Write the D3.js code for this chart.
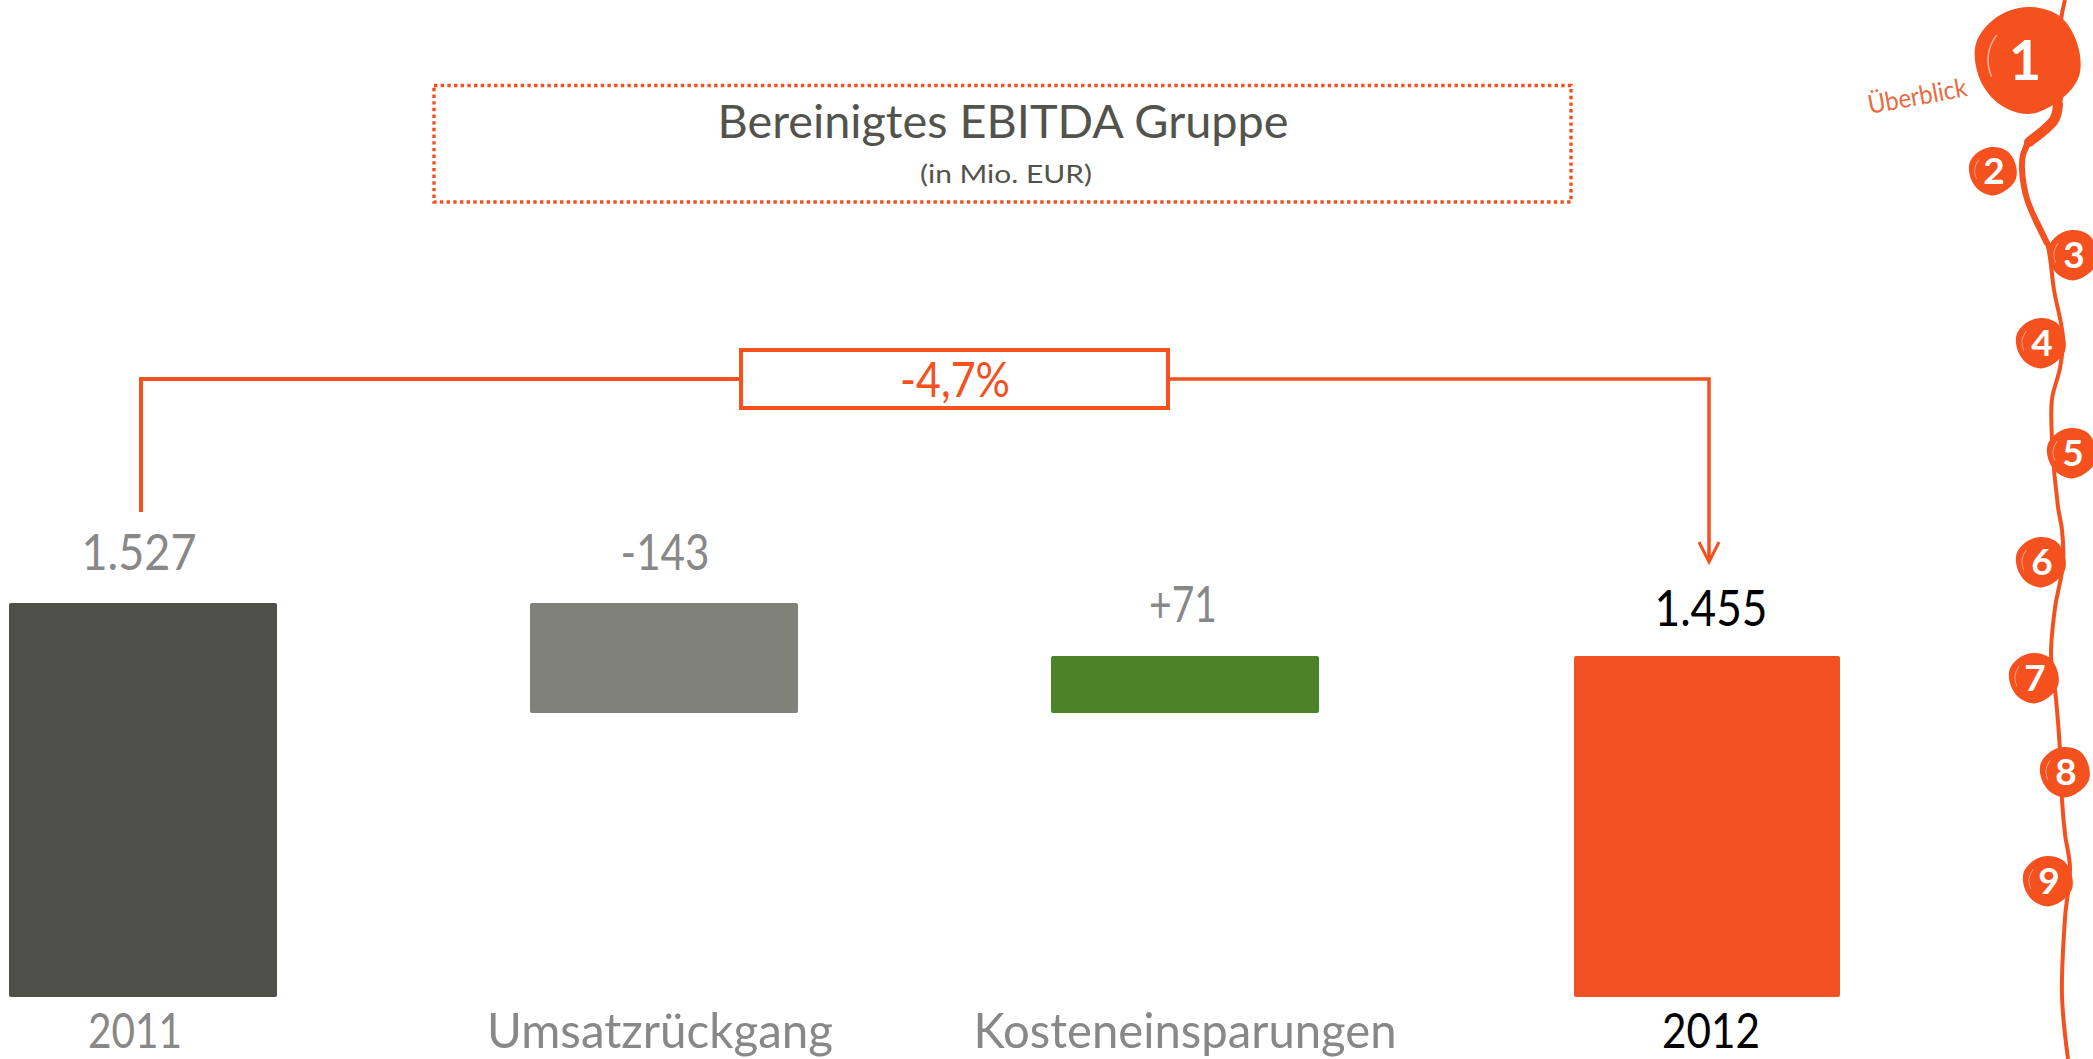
<!DOCTYPE html>
<html lang="de">
<head>
<meta charset="utf-8">
<title>Bereinigtes EBITDA Gruppe</title>
<script src="https://cdn.jsdelivr.net/npm/d3@7"></script>
<style>
html,body{margin:0;padding:0;background:#fff;}
svg{display:block;}
text{font-family:Lato,"Open Sans",sans-serif;}
</style>
</head>
<body>
<svg id="chart" width="2093" height="1059"></svg>
<script>
// ---- data ----
const categories = ["2011", "Umsatzrückgang", "Kosteneinsparungen", "2012"];
const values = [1527, -143, 71, 1455];
const valueLabels = ["1.527", "-143", "+71", "1.455"];
const barColors = ["#4e4f49", "#80827a", "#4e8229", "#f15022"];
const valueColors = ["#888888", "#888888", "#888888", "#000000"];
const axisColors = ["#888888", "#888888", "#888888", "#000000"];
const changeLabel = "-4,7%";
const titleText = "Bereinigtes EBITDA Gruppe";
const subtitleText = "(in Mio. EUR)";
const navLabels = ["1","2","3","4","5","6","7","8","9"];
const navCaption = "Überblick";

// ---- layout (separate from the data) ----
const ORANGE = "#f4511f";
const baseValue = 1015;
const valueDomain = [baseValue, 1384, 1455, 1527];
const valueRange = [997, 713, 656, 603];
const barInset = [0, 0, 0, 2];
const valueDx = [-4, 1, -2, 5];
const valueWidths = [115, 89, 68, 113];
const valueBaselines = [570, 570, 622, 626];
const axisDx = [-8, -4, 0, 5];
const axisWidths = [94, 346, 423, 98];
const axisBaseline = 1048;
const navX = [2028,1993,2073,2041,2072,2041,2034,2065,2048];
const navY = [60,171,255,343,453,562,678,772,881];
const navR = [53,24,25,25,25,25,25,25,25];
const blobShape = [1.0,1.02,0.98,1.01,0.97,1.02,0.99,0.98,1.03,1.0];
const vineX = [2065,2061,2057,2027,2022,2027,2047,2054,2063,2060,2052,2052,2058,2062,2063,2055,2051,2056,2060,2062,2065,2070,2065,2062,2068];
const vineY = [0,20,115,142,169,199,243,290,338,368,399,439,507,530,564,608,655,699,750,800,834,868,918,996,1059];
const vineThickX = [2058,2054,2029];
const vineThickY = [105,120,142];
const vineMidX = [2029,2023,2022,2027,2047];
const vineMidY = [142,155,169,199,243];

const svg = d3.select("#chart");

const x = d3.scaleBand().domain(categories).range([9, 1840]).paddingInner(0.4856);
const y = d3.scaleLinear().domain(valueDomain).range(valueRange);

// waterfall spans
const low = values[0] + values[1];
const spans = [[baseValue, values[0]], [low, values[0]], [low, low + values[2]], [baseValue, values[3]]];

svg.append("g").selectAll("rect").data(categories).join("rect")
  .attr("x", (d, i) => x(d) + barInset[i])
  .attr("width", (d, i) => x.bandwidth() - barInset[i])
  .attr("y", (d, i) => y(spans[i][1]))
  .attr("height", (d, i) => y(spans[i][0]) - y(spans[i][1]))
  .attr("rx", 2)
  .attr("fill", (d, i) => barColors[i]);

// value labels
svg.append("g").selectAll("text").data(categories).join("text")
  .attr("x", d => x(d) + x.bandwidth() / 2)
  .attr("dx", (d, i) => valueDx[i])
  .attr("y", (d, i) => valueBaselines[i])
  .attr("text-anchor", "middle")
  .attr("font-size", 50)
  .attr("textLength", (d, i) => valueWidths[i])
  .attr("lengthAdjust", "spacingAndGlyphs")
  .attr("fill", (d, i) => valueColors[i])
  .text((d, i) => valueLabels[i]);

// category axis
const axisG = svg.append("g")
  .attr("transform", `translate(0,${axisBaseline})`)
  .call(d3.axisBottom(x).tickSize(0).tickPadding(0));
axisG.select(".domain").remove();
axisG.selectAll("text")
  .attr("y", 0).attr("dy", 0)
  .attr("dx", (d, i) => axisDx[i])
  .attr("font-size", 49)
  .attr("text-anchor", "middle")
  .attr("textLength", (d, i) => axisWidths[i])
  .attr("lengthAdjust", "spacingAndGlyphs")
  .attr("fill", (d, i) => axisColors[i])
  .style("font-family", "Lato,'Open Sans',sans-serif");

// title box
svg.append("rect")
  .attr("x", 434).attr("y", 85.5).attr("width", 1137).attr("height", 116.5)
  .attr("fill", "none").attr("stroke", ORANGE).attr("stroke-width", 3.4)
  .attr("stroke-dasharray", "3.4 3.27");
svg.append("text").attr("x", 1003).attr("y", 138)
  .attr("text-anchor", "middle").attr("font-size", 46)
  .attr("textLength", 571).attr("lengthAdjust", "spacingAndGlyphs")
  .attr("fill", "#53534d").text(titleText);
svg.append("text").attr("x", 1006).attr("y", 183)
  .attr("text-anchor", "middle").attr("font-size", 25)
  .attr("textLength", 172).attr("lengthAdjust", "spacingAndGlyphs")
  .attr("fill", "#53534d").text(subtitleText);

// change bracket
const line = d3.line();
svg.append("path")
  .attr("d", line([[141, 512], [141, 379], [741, 379]]))
  .attr("fill", "none").attr("stroke", ORANGE).attr("stroke-width", 4);
svg.append("path")
  .attr("d", line([[1168, 379], [1709, 379], [1709, 560]]))
  .attr("fill", "none").attr("stroke", ORANGE).attr("stroke-width", 3.5);
svg.append("path")
  .attr("d", line([[1699, 542], [1709, 562], [1719, 542]]))
  .attr("fill", "none").attr("stroke", ORANGE).attr("stroke-width", 3);
svg.append("rect")
  .attr("x", 741).attr("y", 350).attr("width", 427).attr("height", 58)
  .attr("fill", "#fff").attr("stroke", ORANGE).attr("stroke-width", 4);
svg.append("text").attr("x", 955).attr("y", 397)
  .attr("text-anchor", "middle").attr("font-size", 49)
  .attr("textLength", 110).attr("lengthAdjust", "spacingAndGlyphs")
  .attr("fill", ORANGE).text(changeLabel);

// side navigation: vine and numbered dots
const curve = d3.line().curve(d3.curveCatmullRom);
svg.append("path")
  .attr("d", curve(d3.zip(vineX, vineY)))
  .attr("fill", "none").attr("stroke", ORANGE).attr("stroke-width", 4);
svg.append("path")
  .attr("d", curve(d3.zip(vineThickX, vineThickY)))
  .attr("fill", "none").attr("stroke", ORANGE).attr("stroke-width", 10).attr("stroke-linecap", "round");
svg.append("path")
  .attr("d", curve(d3.zip(vineMidX, vineMidY)))
  .attr("fill", "none").attr("stroke", ORANGE).attr("stroke-width", 6).attr("stroke-linecap", "round");

const blob = r => d3.lineRadial()
  .angle((d, i) => i / blobShape.length * 2 * Math.PI)
  .radius(d => d * r)
  .curve(d3.curveCardinalClosed)(blobShape);

const nav = svg.append("g").selectAll("g").data(navLabels).join("g")
  .attr("transform", (d, i) => `translate(${navX[i]},${navY[i]})`);
nav.append("path")
  .attr("d", (d, i) => blob(navR[i]))
  .attr("fill", ORANGE);
nav.append("path")
  .attr("d", (d, i) => d3.arc()({
    innerRadius: navR[i] * 0.74,
    outerRadius: navR[i] * 0.77,
    startAngle: -2.0,
    endAngle: -0.9
  }))
  .attr("fill", "#ffd9cb")
  .attr("opacity", 0.7);
nav.append("text")
  .attr("text-anchor", "middle")
  .attr("y", (d, i) => i === 0 ? 20 : 13)
  .attr("x", (d, i) => i === 0 ? -3 : 1)
  .attr("font-size", (d, i) => i === 0 ? 56 : 37)
  .attr("font-weight", 700)
  .attr("fill", "#fff")
  .text(d => d);

svg.append("text")
  .attr("transform", "translate(1919,105) rotate(-10.5)")
  .attr("text-anchor", "middle")
  .attr("font-size", 26)
  .attr("textLength", 100).attr("lengthAdjust", "spacingAndGlyphs")
  .attr("fill", "#ea6a40")
  .text(navCaption);
</script>
</body>
</html>
